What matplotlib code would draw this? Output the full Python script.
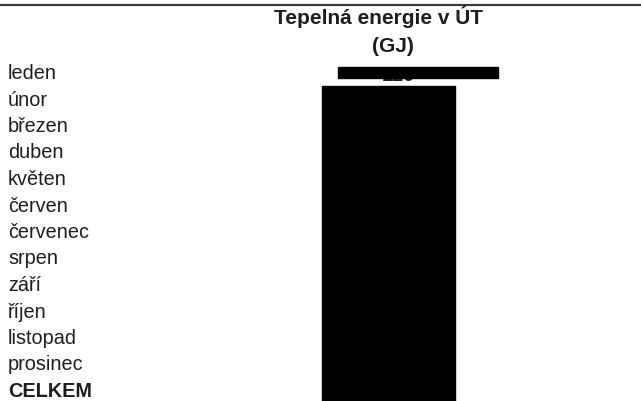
import matplotlib.pyplot as plt
from matplotlib.patches import Rectangle

plt.rcParams['font.family'] = ['Liberation Sans', 'DejaVu Sans']

months = ["leden", "únor", "březen", "duben", "květen", "červen",
          "červenec", "srpen", "září", "říjen", "listopad", "prosinec"]
total_label = "CELKEM"
header = ["Tepelná energie v ÚT", "(GJ)"]
first_value = "120"  # only value partly visible under the redaction

W, H = 641, 401
fig = plt.figure(figsize=(W / 100, H / 100), dpi=100)
ax = fig.add_axes([0, 0, 1, 1])
ax.set_xlim(0, W)
ax.set_ylim(H, 0)
ax.axis('off')

ink = '#1e1e1e'
row0, step = 73.5, 26.5

# top rule of the scanned page
ax.axhline(4.5, color='#3a3a3a', lw=1.6)

ax.text(378, 17, header[0], ha='center', va='center', fontsize=15,
        fontweight='bold', color=ink)
ax.text(393, 46, header[1], ha='center', va='center', fontsize=15,
        fontweight='bold', color=ink)

labels = months + [total_label]
for i, lab in enumerate(labels):
    y = row0 + i * step
    ax.text(8, y, lab, ha='left', va='center', fontsize=14.3, color=ink,
            fontweight='bold' if lab == total_label else 'normal')

# partly hidden value of January
ax.text(398, row0 + 2, first_value, ha='center', va='center', fontsize=14.3,
        color=ink, fontweight='bold')

# redaction boxes
ax.add_patch(Rectangle((338, row0 - 6.5), 160, 11, color='black', zorder=5))
ax.add_patch(Rectangle((322, row0 + step - 14), 133, H, color='black', zorder=5))

fig.savefig('out.png', dpi=100)
